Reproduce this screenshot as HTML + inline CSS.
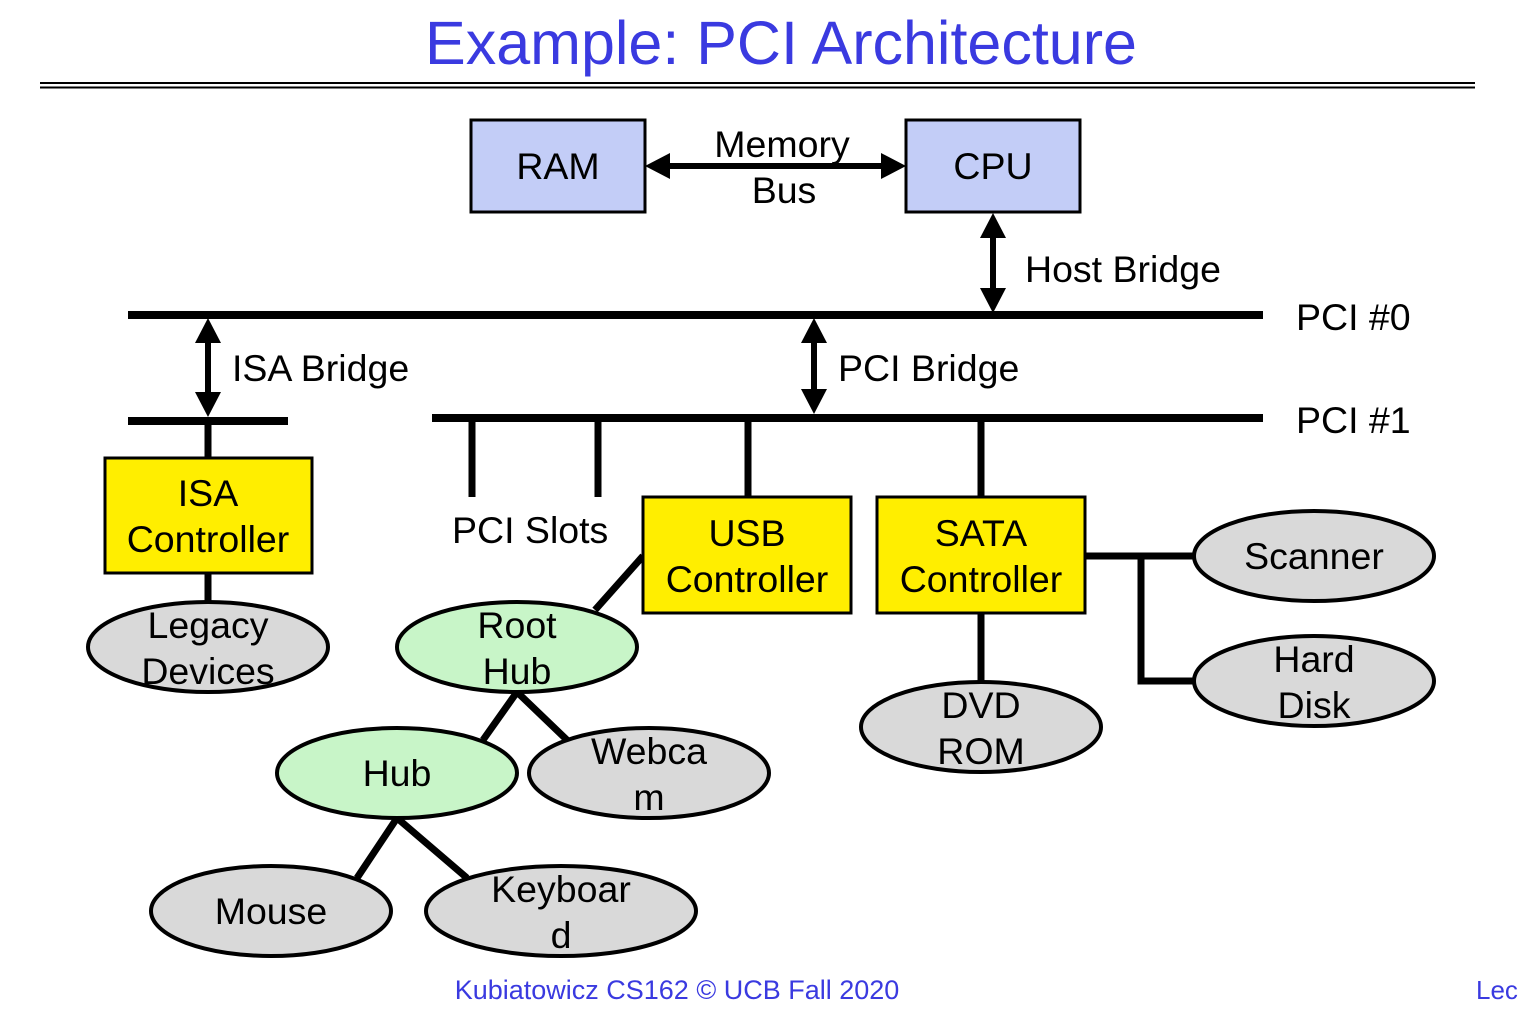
<!DOCTYPE html>
<html><head><meta charset="utf-8"><style>
html,body{margin:0;padding:0;background:#fff;}
svg{display:block;font-family:"Liberation Sans",Arial,sans-serif;}
</style></head><body>
<svg width="1520" height="1014" viewBox="0 0 1520 1014" xmlns="http://www.w3.org/2000/svg">
<rect width="1520" height="1014" fill="#fff"/>
<text x="781" y="64" font-size="61" fill="#3a3ae0" text-anchor="middle">Example: PCI Architecture</text>
<line x1="40" y1="83" x2="1475" y2="83" stroke="#000" stroke-width="2"/>
<line x1="40" y1="87.5" x2="1475" y2="87.5" stroke="#000" stroke-width="2"/>

<g stroke="#000" stroke-width="3">
<rect x="471" y="120" width="174" height="92" fill="#c3cdf7"/>
<rect x="906" y="120" width="174" height="92" fill="#c3cdf7"/>
</g>
<g font-size="37.5" text-anchor="middle" fill="#000">
<text x="558" y="179">RAM</text>
<text x="993" y="179">CPU</text>
<text x="782" y="157">Memory</text>
<text x="784" y="203">Bus</text>
</g>

<g stroke="#000" stroke-width="7" fill="none">
<line x1="128" y1="315" x2="1263" y2="315" stroke-width="8"/>
<line x1="432" y1="418" x2="1263" y2="418" stroke-width="8"/>
<line x1="128" y1="421" x2="288" y2="421" stroke-width="8"/>
<line x1="472" y1="418" x2="472" y2="497"/>
<line x1="598" y1="418" x2="598" y2="497"/>
<line x1="748" y1="418" x2="748" y2="497"/>
<line x1="981" y1="418" x2="981" y2="497"/>
<line x1="208" y1="421" x2="208" y2="458"/>
<line x1="208" y1="573" x2="208" y2="602"/>
<line x1="643" y1="556" x2="595" y2="610"/>
<line x1="517" y1="692" x2="483" y2="740"/>
<line x1="517" y1="692" x2="567" y2="740"/>
<line x1="397" y1="818" x2="357" y2="878"/>
<line x1="397" y1="818" x2="467" y2="878"/>
<line x1="981" y1="613" x2="981" y2="683"/>
<polyline points="1085,556 1195,556"/>
<polyline points="1141,556 1141,681 1195,681"/>
</g>
<g fill="#000">
<line x1="660" y1="166" x2="890" y2="166" stroke="#000" stroke-width="6"/>
<polygon points="645,166 670,153 670,179"/>
<polygon points="906,166 881,153 881,179"/>
<line x1="993" y1="228" x2="993" y2="298" stroke="#000" stroke-width="6"/>
<polygon points="993,213 980,238 1006,238"/>
<polygon points="993,313 980,288 1006,288"/>
<line x1="208" y1="333" x2="208" y2="403" stroke="#000" stroke-width="6"/>
<polygon points="208,318 195,343 221,343"/>
<polygon points="208,417 195,392 221,392"/>
<line x1="814" y1="333" x2="814" y2="400" stroke="#000" stroke-width="6"/>
<polygon points="814,318 801,343 827,343"/>
<polygon points="814,414 801,389 827,389"/>
</g>
<g font-size="37.5" fill="#000">
<text x="1025" y="282">Host Bridge</text>
<text x="1296" y="330">PCI #0</text>
<text x="1296" y="433">PCI #1</text>
<text x="232" y="381">ISA Bridge</text>
<text x="838" y="381">PCI Bridge</text>
<text x="452" y="543">PCI Slots</text>
</g>

<g stroke="#000" stroke-width="3" fill="#ffee00">
<rect x="105" y="458" width="207" height="115"/>
<rect x="643" y="497" width="208" height="116"/>
<rect x="877" y="497" width="208" height="116"/>
</g>
<g stroke="#000" stroke-width="4">
<ellipse cx="208" cy="647" rx="120" ry="45" fill="#d9d9d9"/>
<ellipse cx="517" cy="647" rx="120" ry="45" fill="#c8f5c8"/>
<ellipse cx="397" cy="773" rx="120" ry="45" fill="#c8f5c8"/>
<ellipse cx="649" cy="773" rx="120" ry="45" fill="#d9d9d9"/>
<ellipse cx="271" cy="911" rx="120" ry="45" fill="#d9d9d9"/>
<ellipse cx="561" cy="911" rx="135" ry="45" fill="#d9d9d9"/>
<ellipse cx="981" cy="727" rx="120" ry="45" fill="#d9d9d9"/>
<ellipse cx="1314" cy="556" rx="120" ry="45" fill="#d9d9d9"/>
<ellipse cx="1314" cy="681" rx="120" ry="45" fill="#d9d9d9"/>
</g>
<g font-size="37.5" text-anchor="middle" fill="#000">
<text x="208" y="506">ISA</text><text x="208" y="552">Controller</text>
<text x="747" y="546">USB</text><text x="747" y="592">Controller</text>
<text x="981" y="546">SATA</text><text x="981" y="592">Controller</text>
<text x="208" y="638">Legacy</text><text x="208" y="684">Devices</text>
<text x="517" y="638">Root</text><text x="517" y="684">Hub</text>
<text x="397" y="786">Hub</text>
<text x="649" y="764">Webca</text><text x="649" y="810">m</text>
<text x="271" y="924">Mouse</text>
<text x="561" y="902">Keyboar</text><text x="561" y="948">d</text>
<text x="981" y="718">DVD</text><text x="981" y="764">ROM</text>
<text x="1314" y="569">Scanner</text>
<text x="1314" y="672">Hard</text><text x="1314" y="718">Disk</text>
</g>
<text x="677" y="999" font-size="27" fill="#3a3ae0" text-anchor="middle">Kubiatowicz CS162 © UCB Fall 2020</text>
<text x="1476" y="999" font-size="26" fill="#3a3ae0">Lec</text>
</svg>
</body></html>
